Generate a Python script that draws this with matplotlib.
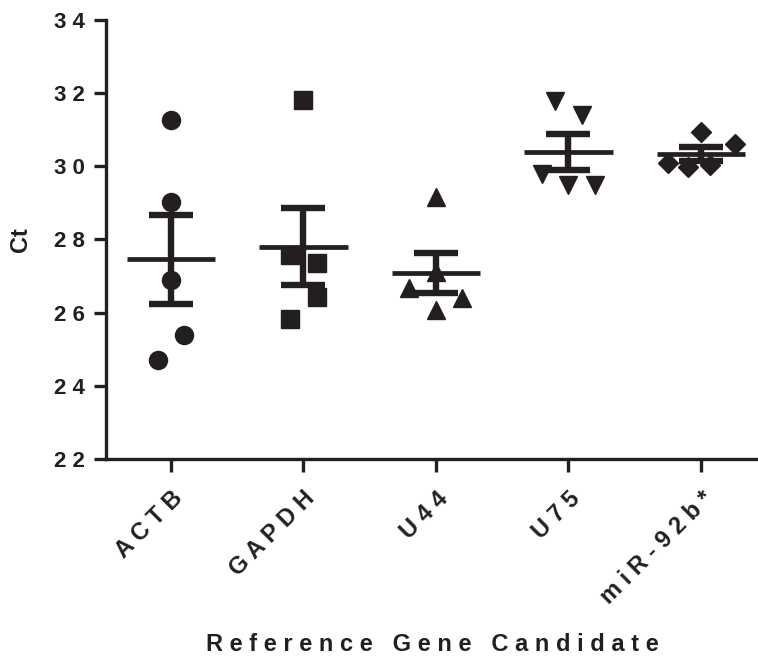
import numpy as np
import matplotlib
matplotlib.use('Agg')
import matplotlib.pyplot as plt

# Ct values per reference gene candidate (5 samples each)
genes = ['ACTB', 'GAPDH', 'U44', 'U75', 'miR-92b*']
ct_actb = [31.26, 29.03, 26.89, 25.39, 24.70]
ct_gapdh = [31.81, 27.57, 27.36, 26.43, 25.83]
ct_u44 = [29.17, 26.67, 27.12, 26.40, 26.07]
ct_u75 = [31.79, 31.40, 29.80, 29.49, 29.49]
ct_mir = [30.94, 30.61, 30.10, 29.99, 30.03]
yticks = [22, 24, 26, 28, 30, 32, 34]

# horizontal scatter of the points (as in the graphpad style)
jitter = [
    [0, 0, 0, 0.1, -0.1],
    [0, -0.1, 0.1, 0.1, -0.1],
    [0, -0.2, 0, 0.2, 0],
    [-0.1, 0.1, -0.2, 0, 0.2],
    [0, 0.26, -0.25, -0.1, 0.07],
]
markers = ['o', 's', '^', 'v', 'D']
msizes = [13, 13, 13, 13, 10.5]


def spaced(s):
    # wide letter spacing like the original
    return ' '.join(s)


plt.rcParams['font.family'] = ['Liberation Sans', 'DejaVu Sans']
plt.rcParams['font.weight'] = 'bold'
col = '#231f20'

fig = plt.figure(figsize=(7.58, 6.59), dpi=100)
ax = fig.add_axes([0.1398, 0.3035, 0.8602, 0.6662])

data = [ct_actb, ct_gapdh, ct_u44, ct_u75, ct_mir]
for i, vals in enumerate(data):
    vals = np.array(vals)
    xs = i + np.array(jitter[i])
    ax.plot(xs, vals, linestyle='none', marker=markers[i], ms=msizes[i],
            color=col, mec=col, zorder=3)
    m = vals.mean()
    sem = vals.std(ddof=1) / np.sqrt(len(vals))
    ax.plot([i - 0.335, i + 0.335], [m, m], color=col, lw=3.4,
            solid_capstyle='butt', zorder=4)
    ax.errorbar([i], [m], yerr=[sem], fmt='none', ecolor=col,
                elinewidth=4.6, capsize=16, capthick=4.6, zorder=4)

ax.set_xlim(-0.49, 4.43)
ax.set_ylim(22, 34)
ax.set_yticks(yticks)
ax.set_yticklabels([spaced(str(t)) for t in yticks])
ax.set_xticks(range(len(genes)))
ax.set_xticklabels([spaced(g) for g in genes], rotation=45, ha='right',
                   va='top', rotation_mode='anchor')

for s in ['top', 'right']:
    ax.spines[s].set_visible(False)
for s in ['left', 'bottom']:
    ax.spines[s].set_linewidth(2.4)
    ax.spines[s].set_color(col)
    ax.spines[s].set_capstyle('projecting')
ax.tick_params(axis='both', direction='out', length=9, width=2.4,
               color=col, labelcolor=col)
ax.tick_params(axis='x', pad=11, labelsize=17)
ax.tick_params(axis='y', pad=6, labelsize=16)

ax.set_ylabel('Ct', fontsize=17, fontweight='bold', color=col, labelpad=16)
ax.set_xlabel('R e f e r e n c e   G e n e   C a n d i d a t e',
              fontsize=17, fontweight='bold', color=col, labelpad=18)

fig.savefig('out.png', dpi=100)
